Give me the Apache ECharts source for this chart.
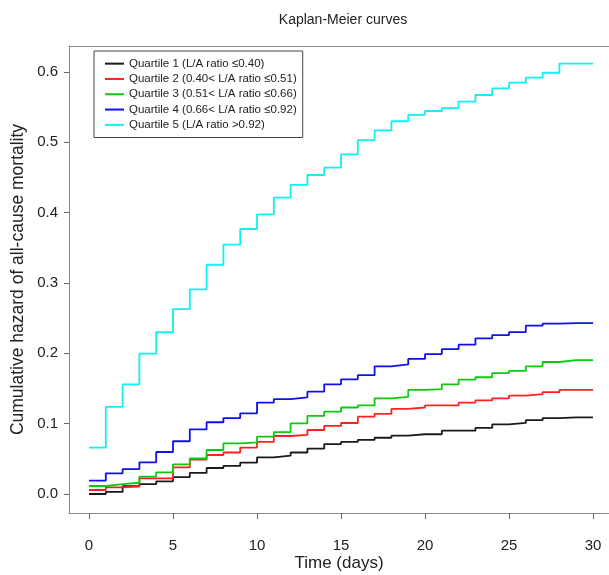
<!DOCTYPE html>
<html>
<head>
<meta charset="utf-8">
<script src="https://cdn.jsdelivr.net/npm/echarts@6/dist/echarts.min.js"></script>
<style>
html,body{margin:0;padding:0;background:#fff;}
#chart{width:609px;height:575px;}
</style>
</head>
<body>
<div id="chart"></div>
<script>
// Days 0..30 (value holds from that day until the next)
var days = [0,1,2,3,4,5,6,7,8,9,10,11,12,13,14,15,16,17,18,19,20,21,22,23,24,25,26,27,28,29,30];

var seriesNames = [
  'Quartile 1 (L/A ratio \u22640.40)',
  'Quartile 2 (0.40< L/A ratio \u22640.51)',
  'Quartile 3 (0.51< L/A ratio \u22640.66)',
  'Quartile 4 (0.66< L/A ratio \u22640.92)',
  'Quartile 5 (L/A ratio >0.92)'
];
var seriesColors = ['#1a1a1a', '#ff2020', '#10c810', '#1010ee', '#10f0f0'];

var q1 = [0.000,0.003,0.011,0.014,0.018,0.024,0.030,0.037,0.040,0.0445,0.052,0.0545,0.059,0.0645,0.071,0.074,0.077,0.080,0.083,0.085,0.085,0.090,0.090,0.094,0.099,0.101,0.105,0.108,0.109,0.109,0.109];
var q2 = [0.0057,0.0095,0.011,0.0223,0.0223,0.038,0.049,0.0555,0.059,0.066,0.074,0.0825,0.084,0.091,0.097,0.101,0.110,0.114,0.121,0.123,0.126,0.126,0.130,0.133,0.136,0.140,0.142,0.145,0.148,0.148,0.148];
var q3 = [0.0114,0.0142,0.016,0.0246,0.0308,0.042,0.0507,0.0626,0.072,0.0735,0.0815,0.088,0.1005,0.111,0.117,0.123,0.126,0.136,0.138,0.148,0.149,0.156,0.1625,0.166,0.172,0.175,0.1815,0.1877,0.1905,0.1905,0.1905];
var q4 = [0.019,0.0294,0.0355,0.045,0.0597,0.075,0.092,0.102,0.108,0.1147,0.130,0.135,0.1375,0.1455,0.156,0.163,0.169,0.1815,0.1843,0.192,0.199,0.206,0.2123,0.2213,0.226,0.2303,0.2393,0.2422,0.2431,0.2431,0.2431];
var q5 = [0.0659,0.124,0.156,0.1995,0.230,0.263,0.291,0.326,0.3545,0.3768,0.3977,0.4213,0.4394,0.4536,0.464,0.483,0.5033,0.517,0.530,0.539,0.5446,0.5488,0.5578,0.5673,0.5768,0.5848,0.592,0.599,0.612,0.612,0.612];

var xTicks = [0,5,10,15,20,25,30];
var yTicks = [0,0.1,0.2,0.3,0.4,0.5,0.6];

var allValues = [q1,q2,q3,q4,q5];
var FONT = '"Liberation Sans", Arial, Helvetica, sans-serif';
var X_MIN = -1.19, X_MAX = 30.95, Y_MIN = -0.027, Y_MAX = 0.637;
var AXIS_LINE = {show: true, onZero: false, lineStyle: {color: '#888', width: 1}};

var series = allValues.map(function(vals, i){
  return {
    name: seriesNames[i],
    type: 'line',
    step: 'end',
    showSymbol: false,
    symbol: 'none',
    xAxisIndex: 0,
    data: days.map(function(d, j){ return [d, vals[j]]; }),
    lineStyle: {color: seriesColors[i], width: 1.8},
    itemStyle: {color: seriesColors[i]},
    z: 2 + i,
    animation: false
  };
});

var chart = echarts.init(document.getElementById('chart'), null, {renderer: 'canvas'});
chart.setOption({
  backgroundColor: '#ffffff',
  animation: false,
  textStyle: {fontFamily: FONT},
  title: {
    text: 'Kaplan-Meier curves',
    left: 338,
    top: 8,
    textAlign: 'center',
    textStyle: {fontFamily: FONT, fontSize: 14, fontWeight: 'normal', color: '#222'}
  },
  legend: {
    orient: 'vertical',
    left: 94,
    top: 51,
    padding: [5, 6, 5, 11],
    itemGap: 0,
    itemWidth: 19,
    itemHeight: 2,
    icon: 'rect',
    borderColor: '#444',
    borderWidth: 1,
    backgroundColor: '#fff',
    textStyle: {fontFamily: FONT, fontSize: 11.5, color: '#222', lineHeight: 15.3},
    data: seriesNames
  },
  grid: {
    left: 69,
    top: 46,
    right: 0,
    bottom: 62,
    show: false,
    containLabel: false,
    outerBoundsMode: 'none'
  },
  xAxis: [{
    type: 'value',
    position: 'bottom',
    min: X_MIN,
    max: X_MAX,
    name: 'Time (days)',
    nameLocation: 'middle',
    nameGap: 42,
    nameMoveOverlap: false,
    nameTextStyle: {fontFamily: FONT, fontSize: 17, color: '#222'},
    axisLine: AXIS_LINE,
    axisTick: {show: true, inside: false, length: 6, customValues: xTicks, lineStyle: {color: '#666'}},
    axisLabel: {customValues: xTicks, margin: 25, fontFamily: FONT, fontSize: 15, color: '#222'},
    splitLine: {show: false}
  }, {
    type: 'value',
    position: 'top',
    min: X_MIN,
    max: X_MAX,
    axisLine: AXIS_LINE,
    axisTick: {show: false},
    axisLabel: {show: false},
    splitLine: {show: false}
  }],
  yAxis: {
    type: 'value',
    min: Y_MIN,
    max: Y_MAX,
    name: 'Cumulative hazard of all-cause mortality',
    nameLocation: 'middle',
    nameGap: 42,
    nameMoveOverlap: false,
    nameTextStyle: {fontFamily: FONT, fontSize: 17.5, color: '#222'},
    axisLine: AXIS_LINE,
    axisTick: {show: true, inside: false, length: 5, customValues: yTicks, lineStyle: {color: '#666'}},
    axisLabel: {customValues: yTicks, margin: 11, fontFamily: FONT, fontSize: 15, color: '#222',
      formatter: function(v){ return v.toFixed(1); }},
    splitLine: {show: false}
  },
  series: series
});
</script>
</body>
</html>
